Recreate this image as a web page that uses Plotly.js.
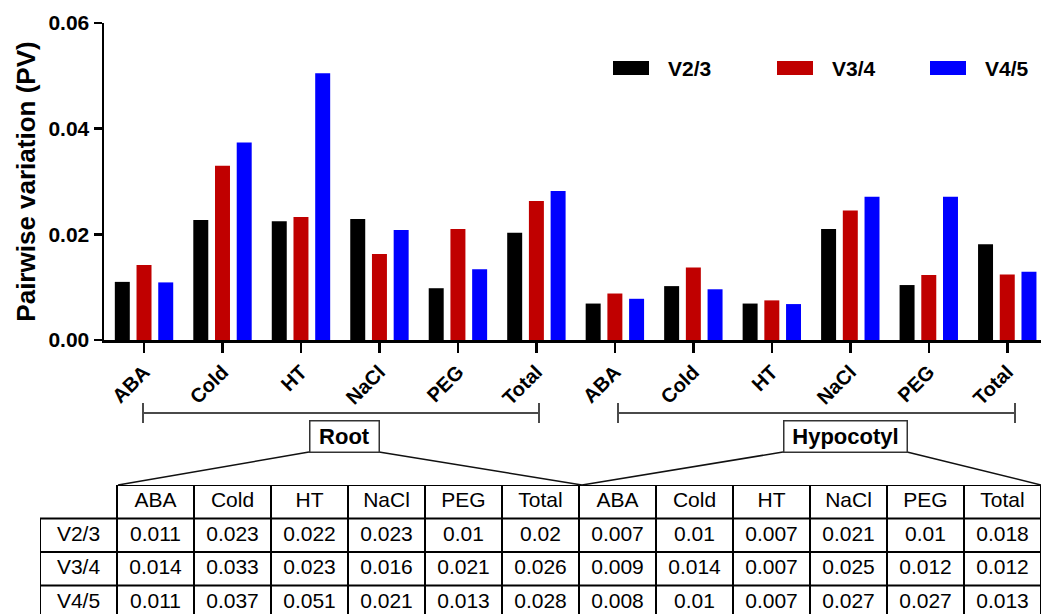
<!DOCTYPE html>
<html><head><meta charset="utf-8">
<script src="https://cdn.plot.ly/plotly-3.0.1.min.js"></script>
<style>html,body{margin:0;padding:0;background:#fff;} #chart{width:1041px;height:614px;}</style>
</head><body><div id="chart"></div>
<script>
// ---------- data ----------
const categories = ['ABA', 'Cold', 'HT', 'NaCl', 'PEG', 'Total'];
const tissues = ['Root', 'Hypocotyl'];
const seriesNames = ['V2/3', 'V3/4', 'V4/5'];
const seriesColors = ['#000000', '#c00000', '#0000ff'];

// bar heights
const v23Root = [0.0110, 0.0227, 0.0225, 0.0229, 0.0098, 0.0203];
const v23Hypo = [0.0069, 0.0102, 0.0069, 0.0210, 0.0104, 0.0181];
const v34Root = [0.0142, 0.0330, 0.0233, 0.0163, 0.0210, 0.0263];
const v34Hypo = [0.0088, 0.0137, 0.0075, 0.0245, 0.0123, 0.0124];
const v45Root = [0.0109, 0.0374, 0.0505, 0.0208, 0.0134, 0.0282];
const v45Hypo = [0.0078, 0.0096, 0.0068, 0.0271, 0.0271, 0.0129];

// values printed in the table
const t23Root = ['0.011', '0.023', '0.022', '0.023', '0.01', '0.02'];
const t23Hypo = ['0.007', '0.01', '0.007', '0.021', '0.01', '0.018'];
const t34Root = ['0.014', '0.033', '0.023', '0.016', '0.021', '0.026'];
const t34Hypo = ['0.009', '0.014', '0.007', '0.025', '0.012', '0.012'];
const t45Root = ['0.011', '0.037', '0.051', '0.021', '0.013', '0.028'];
const t45Hypo = ['0.008', '0.01', '0.007', '0.027', '0.027', '0.013'];

const yTicks = [0, 0.02, 0.04, 0.06];
const yTickText = ['0.00', '0.02', '0.04', '0.06'];

// ---------- build ----------
const W = 1041, H = 614;
const PX = p => p / W;
const PY = p => 1 - p / H;
const FONT = 'Liberation Sans, Arial, Helvetica, sans-serif';

const barSeries = [v23Root.concat(v23Hypo), v34Root.concat(v34Hypo), v45Root.concat(v45Hypo)];
const tableSeries = [t23Root.concat(t23Hypo), t34Root.concat(t34Hypo), t45Root.concat(t45Hypo)];
const allCats = categories.concat(categories);
const xIdx = allCats.map((_, i) => i);

const traces = barSeries.map((vals, s) => ({
  type: 'bar', name: seriesNames[s], x: xIdx, y: vals,
  marker: {color: seriesColors[s], line: {width: 0}},
  showlegend: false, hoverinfo: 'x+y', xaxis: 'x', yaxis: 'y'
}));

// table text trace on its own axes (columns: 0 = row labels, 1..12 = categories; rows: 0 = header)
const tx = [], ty = [], tt = [];
allCats.forEach((c, i) => { tx.push(i + 1.5); ty.push(0.5); tt.push(c); });
seriesNames.forEach((n, s) => { tx.push(0.5); ty.push(s + 1.5); tt.push(n); });
tableSeries.forEach((row, s) => row.forEach((v, i) => { tx.push(i + 1.5); ty.push(s + 1.5); tt.push(v); }));
traces.push({
  type: 'scatter', mode: 'text', x: tx, y: ty, text: tt,
  textposition: 'middle center', textfont: {family: FONT, size: 21, color: '#000'},
  xaxis: 'x2', yaxis: 'y2', showlegend: false, hoverinfo: 'skip', cliponaxis: false
});

const nCols = allCats.length + 1;
const shapes = [];
const tblLine = {color: '#000', width: 2};
// horizontal table lines
shapes.push({type: 'line', xref: 'x2', yref: 'y2', x0: 1, x1: nCols, y0: 0, y1: 0, line: tblLine});
for (let r = 1; r <= seriesNames.length + 1; r++)
  shapes.push({type: 'line', xref: 'x2', yref: 'y2', x0: 0, x1: nCols, y0: r, y1: r, line: tblLine});
// vertical table lines
shapes.push({type: 'line', xref: 'x2', yref: 'y2', x0: 0, x1: 0, y0: 1, y1: seriesNames.length + 1, line: tblLine});
for (let c = 1; c <= nCols; c++)
  shapes.push({type: 'line', xref: 'x2', yref: 'y2', x0: c, x1: c, y0: 0, y1: seriesNames.length + 1, line: tblLine});

// brackets under the axis
const brk = {color: '#4a4a4a', width: 2};
[[143, 539], [618, 1015]].forEach(([a, b]) => {
  shapes.push({type: 'line', xref: 'paper', yref: 'paper', x0: PX(a), x1: PX(b), y0: PY(413), y1: PY(413), line: brk});
  shapes.push({type: 'line', xref: 'paper', yref: 'paper', x0: PX(a), x1: PX(a), y0: PY(403), y1: PY(423), line: brk});
  shapes.push({type: 'line', xref: 'paper', yref: 'paper', x0: PX(b), x1: PX(b), y0: PY(403), y1: PY(423), line: brk});
});
// fan lines from the boxes to the table
const fan = {color: '#111', width: 1.5};
[[309, 118], [379, 582], [783, 582], [907, 1041]].forEach(([a, b]) => {
  shapes.push({type: 'line', xref: 'paper', yref: 'paper', x0: PX(a), x1: PX(b), y0: PY(452), y1: PY(485), line: fan});
});

// custom legend
const legX = [613, 777, 930];
const annotations = [];
seriesNames.forEach((n, s) => {
  shapes.push({type: 'rect', xref: 'paper', yref: 'paper', x0: PX(legX[s]), x1: PX(legX[s] + 36),
    y0: PY(75), y1: PY(61), fillcolor: seriesColors[s], line: {width: 0}});
  annotations.push({xref: 'paper', yref: 'paper', x: PX(legX[s] + 53), y: PY(68), xanchor: 'left', yanchor: 'middle',
    text: n, showarrow: false, font: {family: FONT, size: 21, color: '#000', weight: 'bold'}});
});
// tissue boxes
[[344, 70], [845, 124]].forEach(([cx, w], k) => {
  annotations.push({xref: 'paper', yref: 'paper', x: PX(cx), y: PY(436), xanchor: 'center', yanchor: 'middle',
    text: tissues[k], showarrow: false, width: w - 2, height: 30, borderpad: 0,
    bordercolor: '#333', borderwidth: 1.5, bgcolor: '#fff',
    font: {family: FONT, size: 22, color: '#000', weight: 'bold'}});
});

const layout = {
  width: W, height: H, margin: {l: 0, r: 0, t: 0, b: 0},
  paper_bgcolor: '#fff', plot_bgcolor: 'rgba(0,0,0,0)',
  font: {family: FONT, color: '#000'},
  barmode: 'group', bargap: 0.17, bargroupgap: 0.31,
  showlegend: false,
  xaxis: {
    domain: [PX(104), 1], range: [-0.51, 11.43], anchor: 'y',
    tickmode: 'array', tickvals: xIdx, ticktext: allCats, tickangle: -45,
    ticks: 'outside', ticklen: 10, tickwidth: 2.5, tickcolor: '#000',
    showline: true, linecolor: '#000', linewidth: 2.5, showgrid: false, zeroline: false,
    tickfont: {family: FONT, size: 20, color: '#000', weight: 'bold'}, fixedrange: true
  },
  yaxis: {
    domain: [PY(340), PY(23)], range: [0, 0.06], anchor: 'x',
    tickmode: 'array', tickvals: yTicks, ticktext: yTickText,
    ticks: 'outside', ticklen: 8, tickwidth: 2.5, tickcolor: '#000',
    showline: true, linecolor: '#000', linewidth: 2.5, showgrid: false, zeroline: false,
    tickfont: {family: FONT, size: 21, color: '#000', weight: 'bold'},
    title: {text: 'Pairwise variation (PV)', font: {family: FONT, size: 26, color: '#000', weight: 'bold'}, standoff: 6},
    fixedrange: true
  },
  xaxis2: {domain: [PX(40), 1], range: [0, nCols], anchor: 'y2', visible: false, fixedrange: true},
  yaxis2: {domain: [0, 1 - 485 / H], range: [(H - 485) / 33.5, 0], anchor: 'x2', visible: false, fixedrange: true},
  shapes: shapes, annotations: annotations
};

Plotly.newPlot('chart', traces, layout, {staticPlot: true, displayModeBar: false});
</script>
</body></html>
